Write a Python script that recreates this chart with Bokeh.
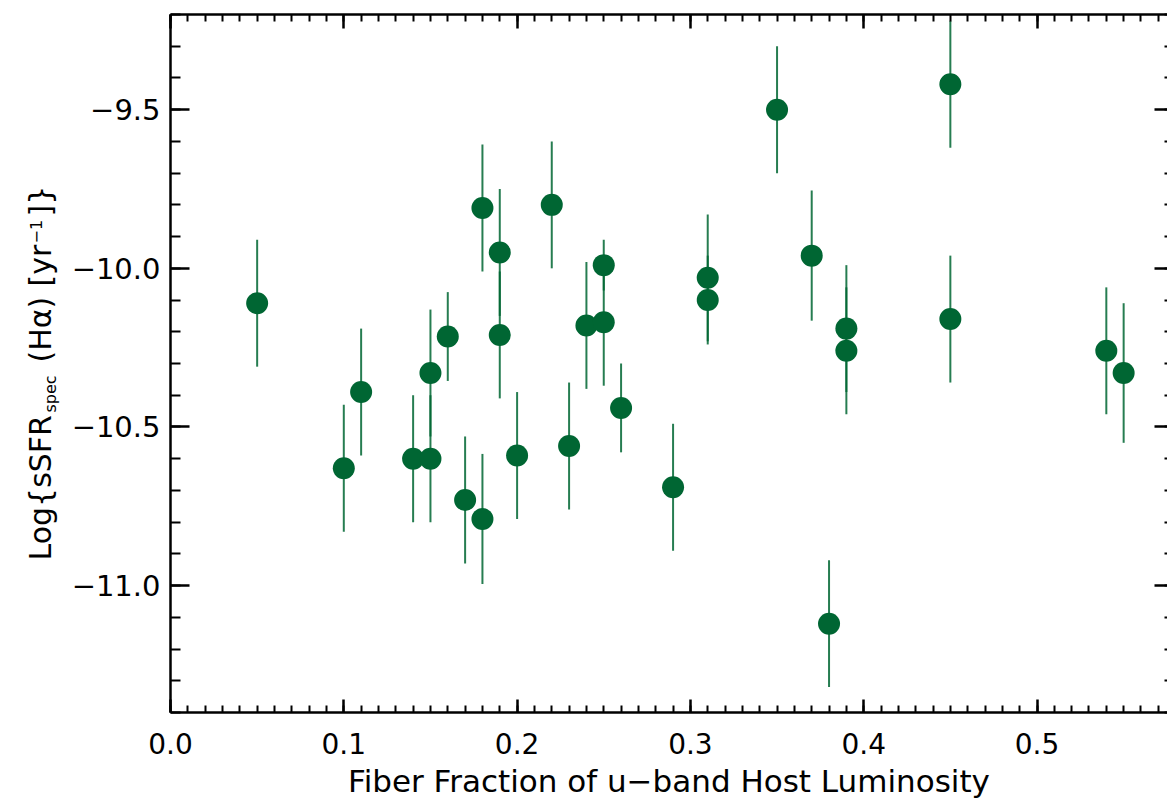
import numpy as np
from bokeh.plotting import figure
from bokeh.layouts import row
from bokeh.models import Range1d, FixedTicker, LinearAxis
from bokeh.core.properties import value
from bokeh.embed import file_html
from bokeh.resources import INLINE

# ---- data ----
fiber_frac = [0.05, 0.10, 0.11, 0.14, 0.15, 0.15, 0.16, 0.17, 0.18, 0.18,
              0.19, 0.19, 0.20, 0.22, 0.23, 0.24, 0.25, 0.25, 0.26, 0.29,
              0.31, 0.31, 0.35, 0.37, 0.38, 0.39, 0.39, 0.45, 0.45, 0.54, 0.55]
log_ssfr = [-10.11, -10.63, -10.39, -10.60, -10.33, -10.60, -10.215, -10.73, -9.81, -10.79,
            -9.95, -10.21, -10.59, -9.80, -10.56, -10.18, -9.99, -10.17, -10.44, -10.69,
            -10.03, -10.10, -9.50, -9.96, -11.12, -10.19, -10.26, -9.42, -10.16, -10.26, -10.33]
log_ssfr_err = [0.20, 0.20, 0.20, 0.20, 0.20, 0.20, 0.14, 0.20, 0.20, 0.205,
                0.20, 0.20, 0.20, 0.20, 0.20, 0.20, 0.08, 0.20, 0.14, 0.20,
                0.20, 0.14, 0.20, 0.205, 0.20, 0.20, 0.20, 0.20, 0.20, 0.20, 0.22]

x_major = [0.0, 0.1, 0.2, 0.3, 0.4, 0.5]
y_major = [-11.0, -10.5, -10.0, -9.5]
x_labels = {0.0: "0.0", 0.1: "0.1", 0.2: "0.2", 0.3: "0.3", 0.4: "0.4", 0.5: "0.5"}
y_labels = {-11.0: "\u221211.0", -10.5: "\u221210.5", -10.0: "\u221210.0", -9.5: "\u22129.5"}
x_title = "Fiber Fraction of u\u2212band Host Luminosity"
# y title pieces and their role (normal / subscript / superscript)
y_title_text = ["Log{sSFR", "spec", "(H\u03b1)", "[yr", "\u22121", "]}"]
y_title_role = ["n", "sub", "n", "n", "sup", "n"]

X0 = 0.0
Y0, Y1 = -11.4, -9.2
FRAME_W, FRAME_H = 997, 698
SIDE_W = 60
LEFT, TOP = 170, 14
X1 = X0 + FRAME_W / 1733.0

GREEN = "#006633"
FONT = "DejaVu Sans"

p = figure(frame_width=FRAME_W, frame_height=FRAME_H,
           x_range=Range1d(X0, X1), y_range=Range1d(Y0, Y1),
           output_backend="svg", toolbar_location=None,
           x_axis_location=None, y_axis_location=None,
           min_border_left=LEFT - SIDE_W, min_border_top=TOP,
           min_border_right=0, min_border_bottom=0)
p.outline_line_color = None
p.xgrid.visible = False
p.ygrid.visible = False

x_minor = [round(i * 0.01, 2) for i in range(0, 58)]
y_minor = [round(-11.4 + i * 0.1, 1) for i in range(0, 23)]


def style_axis(ax, tick_in, minor_in, labels):
    ax.axis_line_width = 2.5
    ax.axis_line_color = "black"
    ax.major_tick_line_width = 2.5
    ax.minor_tick_line_width = 2
    ax.major_tick_line_color = "black"
    ax.minor_tick_line_color = "black"
    ax.major_tick_in = tick_in
    ax.major_tick_out = 0
    ax.minor_tick_in = minor_in
    ax.minor_tick_out = 0
    ax.major_label_text_font = FONT
    if labels:
        ax.major_label_text_font_size = "28px"
        ax.major_label_text_color = "black"
    else:
        ax.major_label_text_font_size = "0px"
        ax.major_label_standoff = 0


xb = LinearAxis(ticker=FixedTicker(ticks=x_major, minor_ticks=x_minor))
style_axis(xb, 13, 7, True)
xb.major_label_overrides = x_labels
xb.major_label_standoff = 20
xb.axis_label = x_title
xb.axis_label_text_font = FONT
xb.axis_label_text_font_size = "31px"
xb.axis_label_text_font_style = "normal"
xb.axis_label_text_color = "black"
xb.axis_label_standoff = 6
p.add_layout(xb, "below")

xt = LinearAxis(ticker=FixedTicker(ticks=x_major, minor_ticks=x_minor))
style_axis(xt, 14, 7, False)
xt.major_label_overrides = {k: "" for k in x_major}
p.add_layout(xt, "above")

yl = LinearAxis(ticker=FixedTicker(ticks=y_major, minor_ticks=y_minor))
style_axis(yl, 19, 10, True)
yl.major_label_text_font_size = "29px"
yl.major_label_overrides = y_labels
yl.major_label_standoff = 10
p.add_layout(yl, "left")

yr = LinearAxis(ticker=FixedTicker(ticks=y_major, minor_ticks=y_minor))
style_axis(yr, 13, 3, False)
yr.axis_line_color = None
yr.major_label_overrides = {k: "" for k in y_major}
p.add_layout(yr, "right")

# error bars and points
fx = np.array(fiber_frac)
fy = np.array(log_ssfr)
fe = np.array(log_ssfr_err)
p.segment(x0=fx, y0=fy - fe, x1=fx, y1=fy + fe, line_color=GREEN,
          line_width=2, line_alpha=0.85)
p.scatter(x=fx, y=fy, marker="circle", size=22, fill_color=GREEN,
          line_color=GREEN, line_width=0)

# ---- side panel holding the rotated y-axis title ----
# its frame is aligned with the main frame (page y 14..712); data y = -page y
side = figure(frame_width=SIDE_W, frame_height=FRAME_H,
              x_range=Range1d(0, SIDE_W), y_range=Range1d(-(TOP + FRAME_H), -TOP),
              output_backend="svg", toolbar_location=None,
              x_axis_location=None, y_axis_location=None,
              min_border_left=0, min_border_right=0,
              min_border_top=TOP, min_border_bottom=0)
side.outline_line_color = None
side.xgrid.visible = False
side.ygrid.visible = False

# baseline x and starting page-y of each piece
piece_x = [40, 50, 40, 40, 35, 40]
piece_y = [560, 412, 362, 286, 243, 216]
sizes = {"n": "30px", "sub": "16px", "sup": "16px"}
for txt, role, bx, by in zip(y_title_text, y_title_role, piece_x, piece_y):
    side.text(x=[bx], y=[-by], text=[txt], angle=np.pi / 2,
              text_font=value(FONT), text_font_size=value(sizes[role]),
              text_align="left", text_baseline="alphabetic", text_color="black")

layout = row(side, p, spacing=0)
open("out.html", "w").write(file_html(layout, INLINE))
